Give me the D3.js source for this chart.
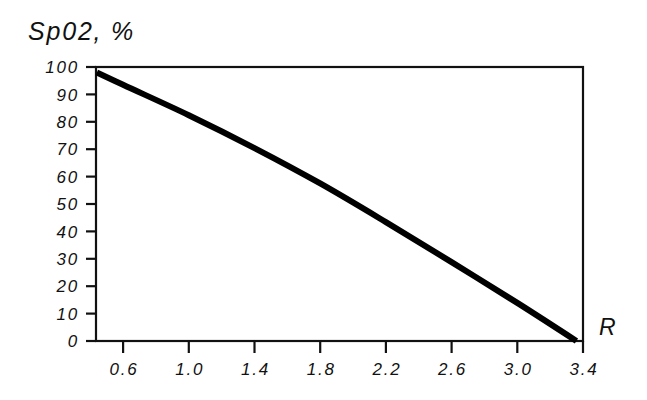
<!DOCTYPE html>
<html>
<head>
<meta charset="utf-8">
<script src="https://cdn.jsdelivr.net/npm/d3@7"></script>
<style>
    body { margin: 0; background: #ffffff; }
    text { font-family: "Liberation Sans", Arial, sans-serif; font-style: italic; fill: #111; }
</style>
</head>
<body>
<div id="chartContainer"></div>
<script>
'use strict';

// curve
const rValues = [0.44, 0.6, 1.0, 1.4, 1.8, 2.2, 2.6, 3.0, 3.36];
const spo2Values = [98, 93.5, 82.4, 70.4, 57.5, 43.4, 28.8, 13.9, 0];

const xTicks = [0.6, 1.0, 1.4, 1.8, 2.2, 2.6, 3.0, 3.4];
const yTicks = [0, 10, 20, 30, 40, 50, 60, 70, 80, 90, 100];

const xDomain = [0.435, 3.4];
const yDomain = [0, 100];

const plotChart = () => {
    const marginTop = 67,
        marginLeft = 96,
        width = 583 - marginLeft,
        height = 341 - marginTop;

    const svg = d3.select("#chartContainer")
        .append("svg")
        .attr("width", 647)
        .attr("height", 400)
        .append("g")
        .attr("transform", "translate(" + marginLeft + "," + marginTop + ")");

    const x = d3.scaleLinear().domain(xDomain).range([0, width]);
    const y = d3.scaleLinear().domain(yDomain).range([height, 0]);

    // frame
    svg.append("rect")
        .attr("width", width)
        .attr("height", height)
        .attr("fill", "none")
        .attr("stroke", "#111")
        .attr("stroke-width", 2.2);

    // y ticks
    svg.selectAll(".ytick")
        .data(yTicks)
        .enter()
        .append("line")
        .attr("x1", -10)
        .attr("x2", 0)
        .attr("y1", d => y(d))
        .attr("y2", d => y(d))
        .attr("stroke", "#111")
        .attr("stroke-width", 2.2);

    svg.selectAll(".ylabel")
        .data(yTicks)
        .enter()
        .append("text")
        .attr("x", -17)
        .attr("y", d => y(d))
        .attr("dy", "0.36em")
        .style("text-anchor", "end")
        .style("font-size", "17px")
        .style("letter-spacing", "1.8px")
        .text(d => d);

    // x ticks
    svg.selectAll(".xtick")
        .data(xTicks)
        .enter()
        .append("line")
        .attr("x1", d => x(d))
        .attr("x2", d => x(d))
        .attr("y1", height)
        .attr("y2", height + 12)
        .attr("stroke", "#111")
        .attr("stroke-width", 2.2);

    svg.selectAll(".xlabel")
        .data(xTicks)
        .enter()
        .append("text")
        .attr("x", d => x(d) + 1)
        .attr("y", height + 34)
        .style("text-anchor", "middle")
        .style("font-size", "17px")
        .style("letter-spacing", "1.8px")
        .text(d => d.toFixed(1));

    // axis titles
    svg.append("text")
        .attr("x", 28 - marginLeft)
        .attr("y", 40 - marginTop)
        .style("font-size", "25px")
        .style("letter-spacing", "1.8px")
        .text("Sp02, %");

    svg.append("text")
        .attr("x", 599 - marginLeft)
        .attr("y", 335 - marginTop)
        .style("font-size", "23px")
        .text("R");

    // curve
    const points = rValues.map((r, i) => [r, spo2Values[i]]);
    const line = d3.line()
        .x(d => x(d[0]))
        .y(d => y(d[1]))
        .curve(d3.curveCatmullRom);

    svg.append("path")
        .datum(points)
        .attr("d", line)
        .attr("fill", "none")
        .attr("stroke", "#000")
        .attr("stroke-width", 6);
}

plotChart();
</script>
</body>
</html>
